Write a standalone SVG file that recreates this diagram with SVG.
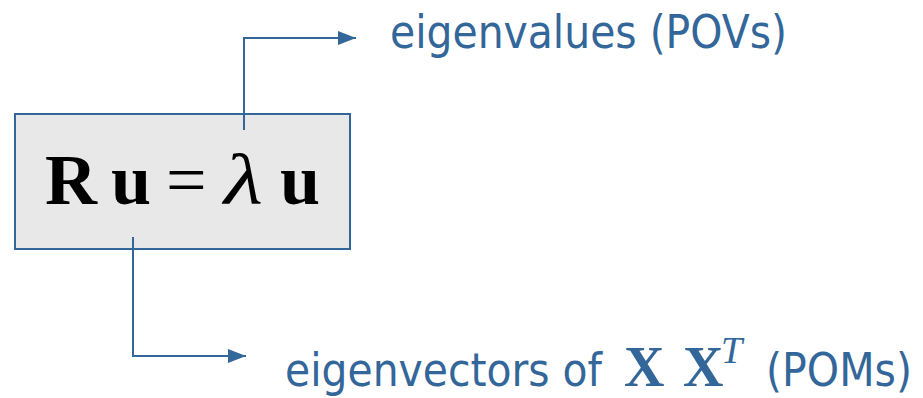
<svg xmlns="http://www.w3.org/2000/svg" width="923" height="398" viewBox="0 0 923 398">
<style>
.lbl{font-family:"DejaVu Sans","Liberation Sans",sans-serif;font-size:46px;fill:#336699}
.eq{font-family:"Liberation Serif","Times New Roman",serif;fill:#000}
.mx{font-family:"Liberation Serif","Times New Roman",serif;fill:#336699}
.conn{fill:none;stroke:#336699;stroke-width:2}
</style>
<defs>
<marker id="ah" viewBox="0 0 18 14" refX="18" refY="7" markerWidth="18" markerHeight="14" markerUnits="userSpaceOnUse" orient="auto">
<path d="M0,0 L18,7 L0,14 Z" fill="#336699"/>
</marker>
</defs>
<rect width="923" height="398" fill="#fff"/>
<g id="box">
<rect x="15" y="114" width="335" height="135" fill="#e8e8e8" stroke="#336699" stroke-width="2"/>
<text class="eq" y="204" font-size="72"><tspan x="45" font-weight="bold">R</tspan><tspan x="111" font-weight="bold">u</tspan><tspan x="166">=</tspan><tspan x="280" font-weight="bold">u</tspan></text>
<text class="eq" font-size="72" font-style="italic" transform="translate(224,204) scale(1.25,1)">λ</text>
</g>
<g id="connectors">
<path class="conn" d="M244,130 V38 H356" marker-end="url(#ah)"/>
<path class="conn" d="M133,237 V356 H246" marker-end="url(#ah)"/>
</g>
<g id="eigenvalues">
<text class="lbl" x="390" y="48" textLength="397" lengthAdjust="spacingAndGlyphs">eigenvalues (POVs)</text>
</g>
<g id="eigenvectors">
<text class="lbl" x="285" y="386" textLength="317" lengthAdjust="spacingAndGlyphs">eigenvectors of</text>
<text class="mx" y="386" font-size="56" font-weight="bold"><tspan x="624">X</tspan><tspan x="683">X</tspan></text>
<text class="mx" x="721" y="363" font-size="38" font-style="italic">T</text>
<text class="lbl" x="766" y="386" textLength="146" lengthAdjust="spacingAndGlyphs">(POMs)</text>
</g>
</svg>
